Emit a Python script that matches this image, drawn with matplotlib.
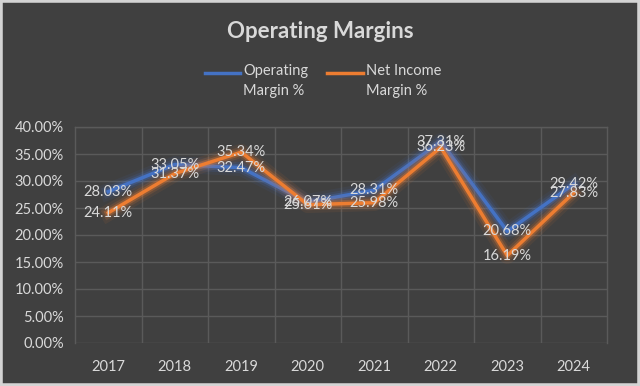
import matplotlib.pyplot as plt
import matplotlib.patheffects as pe
from matplotlib.patches import Rectangle
from matplotlib.lines import Line2D
from matplotlib.ticker import FuncFormatter, MultipleLocator

# data
years = ["2017", "2018", "2019", "2020", "2021", "2022", "2023", "2024"]
operating_margin = [28.03, 33.05, 32.47, 26.07, 28.31, 37.31, 20.68, 29.42]
net_income_margin = [24.11, 31.37, 35.34, 25.61, 25.98, 36.23, 16.19, 27.83]
series_names = ["Operating\nMargin %", "Net Income\nMargin %"]

plt.rcParams['font.family'] = ['Lato', 'DejaVu Sans']

bg = "#404040"
txt = "#d9d9d9"
blue = "#4472c4"
orange = "#ed7d31"
W, H = 640, 386

fig = plt.figure(figsize=(6.4, 3.86), dpi=100)
fig.patch.set_facecolor(bg)
# light frame round the chart
fig.patches.append(Rectangle((0, 0), 1, 1, transform=fig.transFigure,
                             facecolor="none", edgecolor="#d4d4d4", lw=4,
                             zorder=10))

ax = fig.add_axes([75 / W, 43 / H, 532 / W, 216 / H])
ax.set_facecolor(bg)

x = list(range(len(years)))


def glow(color):
    return [pe.Stroke(linewidth=12, foreground=color, alpha=0.08),
            pe.Stroke(linewidth=8, foreground=color, alpha=0.15),
            pe.Stroke(linewidth=5, foreground=color, alpha=0.3),
            pe.Normal()]


ax.plot(x, operating_margin, color=blue, lw=2.5,
        path_effects=glow(blue), zorder=3)
ax.plot(x, net_income_margin, color=orange, lw=2.5,
        path_effects=glow(orange), zorder=4)

for xi, v in zip(x, operating_margin):
    ax.text(xi, v, f"{v:.2f}%", ha="center", va="center", color=txt,
            fontsize=10.5, zorder=5)
for xi, v in zip(x, net_income_margin):
    ax.text(xi, v, f"{v:.2f}%", ha="center", va="center", color=txt,
            fontsize=10.5, zorder=5)

ax.set_xlim(-0.5, len(years) - 0.5)
ax.set_ylim(0, 40)
ax.yaxis.set_major_locator(MultipleLocator(5))
ax.yaxis.set_major_formatter(FuncFormatter(lambda v, p: f"{v:.2f}%"))
ax.set_xticks(x)
ax.set_xticklabels(years)
ax.set_xticks([i + 0.5 for i in x[:-1]], minor=True)

ax.grid(axis="y", which="major", color="#5a5a5a", lw=1)
ax.grid(axis="x", which="minor", color="#5a5a5a", lw=1)
ax.set_axisbelow(True)
for s in ax.spines.values():
    s.set_color("#5a5a5a")
    s.set_linewidth(1)
ax.spines["bottom"].set_visible(False)

ax.tick_params(axis="both", which="both", length=0, colors=txt, labelsize=10.5)
ax.tick_params(axis="y", pad=8)
ax.tick_params(axis="x", pad=12)

fig.text(0.5, 1 - 31 / H, "Operating Margins", ha="center", va="center",
         color=txt, fontsize=16, fontweight="bold")

# legend, drawn Excel style: handle level with the first text line
leg_items = [(205, 240, 243, blue, series_names[0]),
             (327, 363, 366, orange, series_names[1])]
for x0, x1, xt, c, name in leg_items:
    fig.add_artist(Line2D([x0 / W, x1 / W], [1 - 73 / H, 1 - 73 / H],
                          transform=fig.transFigure, color=c, lw=2.5))
    fig.text(xt / W, 1 - 64 / H, name, ha="left", va="top", color=txt,
             fontsize=10.5, linespacing=1.55)

fig.savefig("out.png", dpi=100, facecolor=fig.get_facecolor())
